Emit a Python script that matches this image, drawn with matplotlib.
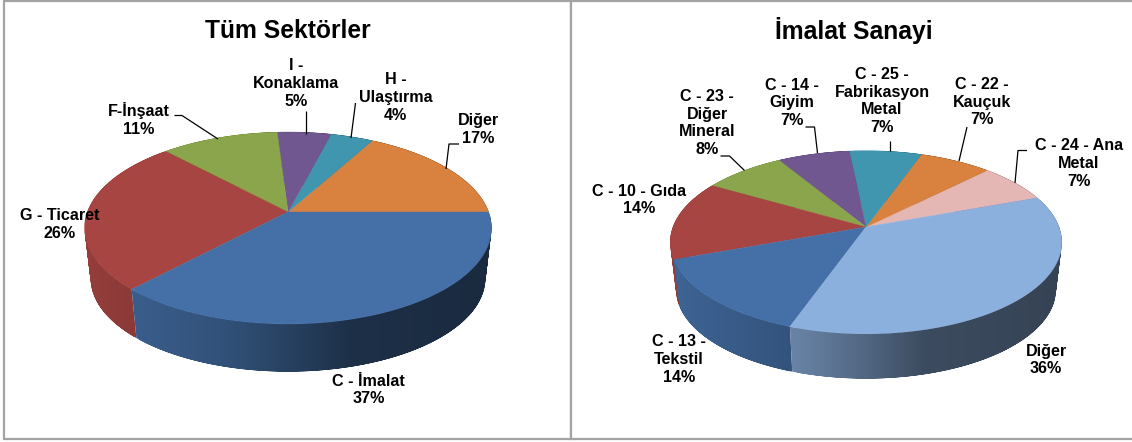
#!/usr/bin/env python3
"""Tüm Sektörler / İmalat Sanayi: two perspective 3D pies drawn from percentages."""

import numpy as np
import matplotlib
matplotlib.use("Agg")
import matplotlib.pyplot as plt
from matplotlib.colors import to_rgb
from matplotlib.patches import PathPatch, Polygon, Rectangle
from matplotlib.path import Path

plt.rcParams['font.family'] = ['Liberation Sans', 'DejaVu Sans']

# Left pie, counter-clockwise from the start angle
tum_names = ["Diğer", "H -\nUlaştırma", "I -\nKonaklama", "F-İnşaat", "G - Ticaret", "C - İmalat"]
tum_values = [17, 4, 5, 11, 26, 37]
tum_colors = ["#d98240", "#4096ae", "#71578f", "#8aa54c", "#a64542", "#4570a7"]

# Right pie
imalat_names = ["C - 24 - Ana\nMetal", "C - 22 -\nKauçuk", "C - 25 -\nFabrikasyon\nMetal", "C - 14 -\nGiyim",
                "C - 23 -\nDiğer\nMineral", "C - 10 - Gıda", "C - 13 -\nTekstil", "Diğer"]
imalat_values = [7, 7, 7, 7, 8, 14, 14, 36]
imalat_colors = ["#e4b6b4", "#d98240", "#4096ae", "#71578f", "#8aa54c", "#a64542", "#4570a7", "#8cb0de"]

# Label centres and leader lines, in image pixels
tum_label_pos = [(478.5, 129.5), (395.5, 97.5), (296, 83.5), (139, 119.5), (59.5, 224.5), (368.5, 390)]
tum_leaders = [
    [(459, 144), (449, 144), (446, 169)],
    [(355.5, 103), (351, 138)],
    [(306, 111), (306, 134)],
    [(174.5, 115.5), (182, 115.5), (218, 139)],
]
imalat_label_pos = [(1079, 163.5), (982, 102), (882, 101), (792, 103),
                    (707, 123), (639, 200), (679, 359.5), (1046, 360)]
imalat_leaders = [
    [(1027, 150.5), (1018, 150.5), (1015, 183)],
    [(967, 127), (959, 161)],
    [(890, 140.5), (890, 151)],
    [(805.5, 127), (814.5, 127), (817.5, 153)],
    [(720.5, 156), (729.5, 156), (744.5, 170.5)],
]

PERSPECTIVE = 1 / 6
BOTTOM_SCALE = 0.97
GREY = "#a3a3a3"


def project(theta, cx, cy, a, b, scale=1.0):
    """Disc angle (degrees) to image pixels, with the back of the disc further away."""
    t = np.radians(theta)
    w = 1 + PERSPECTIVE * np.sin(t)
    return cx + scale * a * np.cos(t) / w, cy - scale * b * np.sin(t) / w


def wall_shade(c):
    # light from the left: the wall gets darker towards the right
    return np.interp(c, [-1, -0.7, -0.3, 0, 0.3, 1], [0.9, 0.82, 0.72, 0.58, 0.43, 0.38])


def wall_path(xt, yt, xb, yb):
    # overlapping quads, so the sides of the wall follow the disc outline
    parts = []
    for i in range(len(xt) - 2):
        verts = [(xt[i], yt[i]), (xt[i + 2], yt[i + 2]), (xb[i + 2], yb[i + 2]), (xb[i], yb[i]), (xt[i], yt[i])]
        area = sum(verts[j][0] * verts[j + 1][1] - verts[j + 1][0] * verts[j][1] for j in range(4))
        if area < 0:
            verts = verts[::-1]
        parts.append(Path(verts, closed=True))
    return Path.make_compound_path(*parts)


def draw_pie(ax, values, colors, start, cx, cy, a, b, depth):
    edges = start + np.cumsum([0] + list(values)) * 3.6

    # side wall: a horizontal gradient clipped to each slice's wall
    for t0, t1, col in zip(edges[:-1], edges[1:], colors):
        theta = np.linspace(t0, t1, 100)
        xt, yt = project(theta, cx, cy, a, b)
        xb, yb = project(theta, cx, cy + depth, a, b, BOTTOM_SCALE)
        wall = PathPatch(wall_path(xt, yt, xb, yb), facecolor="none", edgecolor="none")
        ax.add_patch(wall)
        x0, x1 = min(xt.min(), xb.min()), max(xt.max(), xb.max())
        xs = np.linspace(x0, x1, 256)
        grad = np.outer(wall_shade((xs - cx) / (a * 1.01)), to_rgb(col))[np.newaxis, :, :]
        y0, y1 = min(yt.min(), yb.min()), max(yt.max(), yb.max())
        im = ax.imshow(grad, extent=(x0, x1, y1, y0), aspect="auto", zorder=2, interpolation="bilinear")
        im.set_clip_path(wall)

    # top surface
    for t0, t1, col in zip(edges[:-1], edges[1:], colors):
        theta = np.linspace(t0, t1, 120)
        xs, ys = project(theta, cx, cy, a, b)
        pts = [(cx, cy)] + list(zip(xs, ys))
        ax.add_patch(Polygon(pts, closed=True, facecolor=col, edgecolor=col, linewidth=0.3, zorder=3))


def draw_labels(ax, names, values, positions, leaders):
    for name, val, (x, y) in zip(names, values, positions):
        ax.text(x, y, f"{name}\n{val}%", ha="center", va="center", fontsize=11.6,
                fontweight="bold", color="black", linespacing=1.24, zorder=6)
    for line in leaders:
        xs, ys = zip(*line)
        ax.plot(xs, ys, color="black", linewidth=0.9, zorder=5, solid_capstyle="butt")


fig = plt.figure(figsize=(11.32, 4.42), dpi=100)
ax = fig.add_axes([0, 0, 1, 1])
ax.axis("off")

# panel frames
ax.add_patch(Rectangle((4, 1), 567, 438, facecolor="white", edgecolor=GREY, linewidth=1.6, zorder=1))
ax.add_patch(Rectangle((571, 1), 570, 438, facecolor="white", edgecolor=GREY, linewidth=1.6, zorder=1))

draw_pie(ax, tum_values, tum_colors, 0, 288, 212, 200.6, 93.3, 51)
draw_pie(ax, imalat_values, imalat_colors, 20.2, 866, 227, 193, 89, 48)

draw_labels(ax, tum_names, tum_values, tum_label_pos, tum_leaders)
draw_labels(ax, imalat_names, imalat_values, imalat_label_pos, imalat_leaders)

ax.text(287.5, 31, "Tüm Sektörler", ha="center", va="center", fontsize=17.7, fontweight="bold")
ax.text(854, 31, "İmalat Sanayi", ha="center", va="center", fontsize=17.7, fontweight="bold")

# imshow changes the limits, so set them last
ax.set_xlim(0, 1132)
ax.set_ylim(442, 0)

fig.savefig("out.png", dpi=100)
